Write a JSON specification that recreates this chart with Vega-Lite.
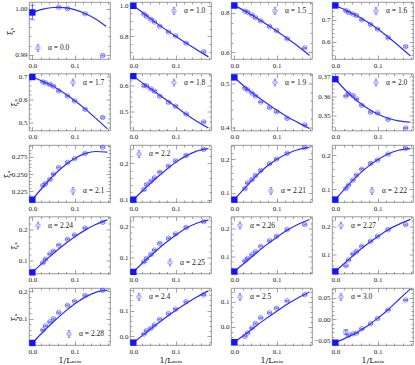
{
"$schema":"https://vega.github.io/schema/vega-lite/v6.json",
"padding":{"left":2,"top":1,"right":2,"bottom":1},
"autosize":{"type":"pad"},
"bounds":"flush",
"columns":4,
"spacing":{"row":14.5,"column":20},
"data":{"name":"d"},
"resolve":{"scale":{"color":"independent","x":"independent","y":"independent"},"legend":{"color":"independent"}},
"datasets":{"d":[
{"a":"0.0","k":"fit","x":0,"y":0.9992},{"a":"0.0","k":"fit","x":0.025,"y":0.99995},{"a":"0.0","k":"fit","x":0.05,"y":1.0003},{"a":"0.0","k":"fit","x":0.075,"y":1.00026},{"a":"0.0","k":"fit","x":0.1,"y":0.99983},{"a":"0.0","k":"fit","x":0.125,"y":0.999},{"a":"0.0","k":"fit","x":0.15,"y":0.99778},{"a":"0.0","k":"fit","x":0.175,"y":0.99616},
{"a":"0.0","k":"mc","x":0.0625,"y":1.00035,"e":0.00012},{"a":"0.0","k":"mc","x":0.08333,"y":1.00007,"e":0.00012},{"a":"0.0","k":"mc","x":0.125,"y":0.99894,"e":0.00012},{"a":"0.0","k":"mc","x":0.16667,"y":0.98986,"e":0.00012},
{"a":"0.0","k":"ext","x":0,"y":0.99922,"e":0.0016},
{"a":"1.0","k":"fit","x":0,"y":1.0},{"a":"1.0","k":"fit","x":0.025,"y":0.95},{"a":"1.0","k":"fit","x":0.05,"y":0.897},{"a":"1.0","k":"fit","x":0.075,"y":0.848},{"a":"1.0","k":"fit","x":0.1,"y":0.802},{"a":"1.0","k":"fit","x":0.125,"y":0.757},{"a":"1.0","k":"fit","x":0.15,"y":0.714},{"a":"1.0","k":"fit","x":0.178,"y":0.667},
{"a":"1.0","k":"mc","x":0.025,"y":0.947,"e":0.004},{"a":"1.0","k":"mc","x":0.03125,"y":0.931,"e":0.004},{"a":"1.0","k":"mc","x":0.04167,"y":0.912,"e":0.004},{"a":"1.0","k":"mc","x":0.05,"y":0.895,"e":0.004},{"a":"1.0","k":"mc","x":0.0625,"y":0.867,"e":0.004},{"a":"1.0","k":"mc","x":0.08333,"y":0.829,"e":0.004},{"a":"1.0","k":"mc","x":0.1,"y":0.804,"e":0.004},{"a":"1.0","k":"mc","x":0.125,"y":0.756,"e":0.004},{"a":"1.0","k":"mc","x":0.16667,"y":0.701,"e":0.004},
{"a":"1.0","k":"ext","x":0,"y":1.0,"e":0.004},
{"a":"1.5","k":"fit","x":0,"y":0.836},{"a":"1.5","k":"fit","x":0.025,"y":0.809},{"a":"1.5","k":"fit","x":0.05,"y":0.777},{"a":"1.5","k":"fit","x":0.075,"y":0.743},{"a":"1.5","k":"fit","x":0.1,"y":0.708},{"a":"1.5","k":"fit","x":0.125,"y":0.671},{"a":"1.5","k":"fit","x":0.15,"y":0.632},{"a":"1.5","k":"fit","x":0.178,"y":0.585},
{"a":"1.5","k":"mc","x":0.025,"y":0.808,"e":0.003},{"a":"1.5","k":"mc","x":0.03125,"y":0.802,"e":0.003},{"a":"1.5","k":"mc","x":0.04167,"y":0.789,"e":0.003},{"a":"1.5","k":"mc","x":0.05,"y":0.775,"e":0.003},{"a":"1.5","k":"mc","x":0.0625,"y":0.759,"e":0.003},{"a":"1.5","k":"mc","x":0.08333,"y":0.731,"e":0.003},{"a":"1.5","k":"mc","x":0.1,"y":0.71,"e":0.003},{"a":"1.5","k":"mc","x":0.125,"y":0.669,"e":0.003},{"a":"1.5","k":"mc","x":0.16667,"y":0.623,"e":0.003},
{"a":"1.5","k":"ext","x":0,"y":0.836,"e":0.003},
{"a":"1.6","k":"fit","x":0,"y":0.766},{"a":"1.6","k":"fit","x":0.025,"y":0.744},{"a":"1.6","k":"fit","x":0.05,"y":0.72},{"a":"1.6","k":"fit","x":0.075,"y":0.692},{"a":"1.6","k":"fit","x":0.1,"y":0.66},{"a":"1.6","k":"fit","x":0.125,"y":0.622},{"a":"1.6","k":"fit","x":0.15,"y":0.582},{"a":"1.6","k":"fit","x":0.178,"y":0.535},
{"a":"1.6","k":"mc","x":0.025,"y":0.742,"e":0.003},{"a":"1.6","k":"mc","x":0.03125,"y":0.734,"e":0.003},{"a":"1.6","k":"mc","x":0.04167,"y":0.727,"e":0.003},{"a":"1.6","k":"mc","x":0.05,"y":0.72,"e":0.003},{"a":"1.6","k":"mc","x":0.0625,"y":0.7,"e":0.003},{"a":"1.6","k":"mc","x":0.08333,"y":0.679,"e":0.003},{"a":"1.6","k":"mc","x":0.1,"y":0.658,"e":0.003},{"a":"1.6","k":"mc","x":0.125,"y":0.618,"e":0.003},{"a":"1.6","k":"mc","x":0.16667,"y":0.578,"e":0.003},
{"a":"1.6","k":"ext","x":0,"y":0.766,"e":0.003},
{"a":"1.7","k":"fit","x":0,"y":0.698},{"a":"1.7","k":"fit","x":0.025,"y":0.678},{"a":"1.7","k":"fit","x":0.05,"y":0.656},{"a":"1.7","k":"fit","x":0.075,"y":0.628},{"a":"1.7","k":"fit","x":0.1,"y":0.596},{"a":"1.7","k":"fit","x":0.125,"y":0.56},{"a":"1.7","k":"fit","x":0.15,"y":0.52},{"a":"1.7","k":"fit","x":0.178,"y":0.474},
{"a":"1.7","k":"mc","x":0.025,"y":0.6755,"e":0.003},{"a":"1.7","k":"mc","x":0.03125,"y":0.671,"e":0.003},{"a":"1.7","k":"mc","x":0.04167,"y":0.665,"e":0.003},{"a":"1.7","k":"mc","x":0.05,"y":0.657,"e":0.003},{"a":"1.7","k":"mc","x":0.0625,"y":0.637,"e":0.003},{"a":"1.7","k":"mc","x":0.08333,"y":0.615,"e":0.003},{"a":"1.7","k":"mc","x":0.1,"y":0.594,"e":0.003},{"a":"1.7","k":"mc","x":0.125,"y":0.558,"e":0.003},{"a":"1.7","k":"mc","x":0.16667,"y":0.523,"e":0.003},
{"a":"1.7","k":"ext","x":0,"y":0.697,"e":0.003},
{"a":"1.8","k":"fit","x":0,"y":0.638},{"a":"1.8","k":"fit","x":0.025,"y":0.607},{"a":"1.8","k":"fit","x":0.05,"y":0.578},{"a":"1.8","k":"fit","x":0.075,"y":0.549},{"a":"1.8","k":"fit","x":0.1,"y":0.52},{"a":"1.8","k":"fit","x":0.125,"y":0.49},{"a":"1.8","k":"fit","x":0.15,"y":0.463},{"a":"1.8","k":"fit","x":0.178,"y":0.437},
{"a":"1.8","k":"mc","x":0.025,"y":0.601,"e":0.003},{"a":"1.8","k":"mc","x":0.03125,"y":0.6,"e":0.003},{"a":"1.8","k":"mc","x":0.04167,"y":0.588,"e":0.003},{"a":"1.8","k":"mc","x":0.05,"y":0.579,"e":0.003},{"a":"1.8","k":"mc","x":0.0625,"y":0.56,"e":0.003},{"a":"1.8","k":"mc","x":0.08333,"y":0.536,"e":0.003},{"a":"1.8","k":"mc","x":0.1,"y":0.521,"e":0.003},{"a":"1.8","k":"mc","x":0.125,"y":0.491,"e":0.003},{"a":"1.8","k":"mc","x":0.16667,"y":0.46,"e":0.003},
{"a":"1.8","k":"ext","x":0,"y":0.6377,"e":0.003},
{"a":"1.9","k":"fit","x":0,"y":0.5134},{"a":"1.9","k":"fit","x":0.025,"y":0.492},{"a":"1.9","k":"fit","x":0.05,"y":0.473},{"a":"1.9","k":"fit","x":0.075,"y":0.456},{"a":"1.9","k":"fit","x":0.1,"y":0.439},{"a":"1.9","k":"fit","x":0.125,"y":0.424},{"a":"1.9","k":"fit","x":0.15,"y":0.411},{"a":"1.9","k":"fit","x":0.178,"y":0.397},
{"a":"1.9","k":"mc","x":0.025,"y":0.4888,"e":0.0015},{"a":"1.9","k":"mc","x":0.03125,"y":0.485,"e":0.0015},{"a":"1.9","k":"mc","x":0.04167,"y":0.4776,"e":0.0015},{"a":"1.9","k":"mc","x":0.05,"y":0.471,"e":0.0015},{"a":"1.9","k":"mc","x":0.0625,"y":0.4575,"e":0.0015},{"a":"1.9","k":"mc","x":0.08333,"y":0.4448,"e":0.0015},{"a":"1.9","k":"mc","x":0.1,"y":0.4351,"e":0.0015},{"a":"1.9","k":"mc","x":0.125,"y":0.4201,"e":0.0015},{"a":"1.9","k":"mc","x":0.16667,"y":0.4052,"e":0.0015},
{"a":"1.9","k":"ext","x":0,"y":0.5134,"e":0.0015},
{"a":"2.0","k":"fit","x":0,"y":0.3688},{"a":"2.0","k":"fit","x":0.025,"y":0.3628},{"a":"2.0","k":"fit","x":0.05,"y":0.3578},{"a":"2.0","k":"fit","x":0.075,"y":0.3537},{"a":"2.0","k":"fit","x":0.1,"y":0.3506},{"a":"2.0","k":"fit","x":0.125,"y":0.3484},{"a":"2.0","k":"fit","x":0.15,"y":0.347},{"a":"2.0","k":"fit","x":0.178,"y":0.3463},
{"a":"2.0","k":"mc","x":0.025,"y":0.36,"e":0.0003},{"a":"2.0","k":"mc","x":0.03125,"y":0.3613,"e":0.0003},{"a":"2.0","k":"mc","x":0.04167,"y":0.3603,"e":0.0003},{"a":"2.0","k":"mc","x":0.05,"y":0.3585,"e":0.0003},{"a":"2.0","k":"mc","x":0.0625,"y":0.3551,"e":0.0003},{"a":"2.0","k":"mc","x":0.08333,"y":0.3515,"e":0.0003},{"a":"2.0","k":"mc","x":0.1,"y":0.3512,"e":0.0003},{"a":"2.0","k":"mc","x":0.125,"y":0.3478,"e":0.0003},{"a":"2.0","k":"mc","x":0.16667,"y":0.3433,"e":0.0003},
{"a":"2.0","k":"ext","x":0,"y":0.3688,"e":0.0003},
{"a":"2.1","k":"fit","x":0,"y":0.2129},{"a":"2.1","k":"fit","x":0.025,"y":0.2312},{"a":"2.1","k":"fit","x":0.05,"y":0.2478},{"a":"2.1","k":"fit","x":0.075,"y":0.2617},{"a":"2.1","k":"fit","x":0.1,"y":0.2725},{"a":"2.1","k":"fit","x":0.125,"y":0.2795},{"a":"2.1","k":"fit","x":0.15,"y":0.2826},{"a":"2.1","k":"fit","x":0.178,"y":0.2818},
{"a":"2.1","k":"mc","x":0.025,"y":0.2333,"e":0.0007},{"a":"2.1","k":"mc","x":0.03125,"y":0.2362,"e":0.0007},{"a":"2.1","k":"mc","x":0.04167,"y":0.242,"e":0.0007},{"a":"2.1","k":"mc","x":0.05,"y":0.25,"e":0.0007},{"a":"2.1","k":"mc","x":0.0625,"y":0.2595,"e":0.0007},{"a":"2.1","k":"mc","x":0.08333,"y":0.2668,"e":0.0007},{"a":"2.1","k":"mc","x":0.1,"y":0.2721,"e":0.0007},{"a":"2.1","k":"mc","x":0.125,"y":0.2799,"e":0.0007},{"a":"2.1","k":"mc","x":0.16667,"y":0.2886,"e":0.0007},
{"a":"2.1","k":"ext","x":0,"y":0.2129,"e":0.0007},
{"a":"2.2","k":"fit","x":0,"y":0.1},{"a":"2.2","k":"fit","x":0.025,"y":0.128},{"a":"2.2","k":"fit","x":0.05,"y":0.155},{"a":"2.2","k":"fit","x":0.075,"y":0.18},{"a":"2.2","k":"fit","x":0.1,"y":0.203},{"a":"2.2","k":"fit","x":0.125,"y":0.221},{"a":"2.2","k":"fit","x":0.15,"y":0.234},{"a":"2.2","k":"fit","x":0.178,"y":0.241},
{"a":"2.2","k":"mc","x":0.025,"y":0.1278,"e":0.002},{"a":"2.2","k":"mc","x":0.03125,"y":0.1417,"e":0.002},{"a":"2.2","k":"mc","x":0.04167,"y":0.1509,"e":0.002},{"a":"2.2","k":"mc","x":0.05,"y":0.1602,"e":0.002},{"a":"2.2","k":"mc","x":0.0625,"y":0.1759,"e":0.002},{"a":"2.2","k":"mc","x":0.08333,"y":0.1926,"e":0.002},{"a":"2.2","k":"mc","x":0.1,"y":0.2074,"e":0.002},{"a":"2.2","k":"mc","x":0.125,"y":0.2222,"e":0.002},{"a":"2.2","k":"mc","x":0.16667,"y":0.2389,"e":0.002},
{"a":"2.2","k":"ext","x":0,"y":0.1,"e":0.002},
{"a":"2.21","k":"fit","x":0,"y":0.079},{"a":"2.21","k":"fit","x":0.025,"y":0.114},{"a":"2.21","k":"fit","x":0.05,"y":0.148},{"a":"2.21","k":"fit","x":0.075,"y":0.177},{"a":"2.21","k":"fit","x":0.1,"y":0.2},{"a":"2.21","k":"fit","x":0.125,"y":0.217},{"a":"2.21","k":"fit","x":0.15,"y":0.229},{"a":"2.21","k":"fit","x":0.178,"y":0.236},
{"a":"2.21","k":"mc","x":0.025,"y":0.1121,"e":0.002},{"a":"2.21","k":"mc","x":0.03125,"y":0.1293,"e":0.002},{"a":"2.21","k":"mc","x":0.04167,"y":0.1394,"e":0.002},{"a":"2.21","k":"mc","x":0.05,"y":0.1515,"e":0.002},{"a":"2.21","k":"mc","x":0.0625,"y":0.1667,"e":0.002},{"a":"2.21","k":"mc","x":0.08333,"y":0.1869,"e":0.002},{"a":"2.21","k":"mc","x":0.1,"y":0.201,"e":0.002},{"a":"2.21","k":"mc","x":0.125,"y":0.2182,"e":0.002},{"a":"2.21","k":"mc","x":0.16667,"y":0.2354,"e":0.002},
{"a":"2.21","k":"ext","x":0,"y":0.0788,"e":0.002},
{"a":"2.22","k":"fit","x":0,"y":0.07},{"a":"2.22","k":"fit","x":0.025,"y":0.105},{"a":"2.22","k":"fit","x":0.05,"y":0.137},{"a":"2.22","k":"fit","x":0.075,"y":0.164},{"a":"2.22","k":"fit","x":0.1,"y":0.186},{"a":"2.22","k":"fit","x":0.125,"y":0.203},{"a":"2.22","k":"fit","x":0.15,"y":0.214},{"a":"2.22","k":"fit","x":0.178,"y":0.219},
{"a":"2.22","k":"mc","x":0.025,"y":0.102,"e":0.002},{"a":"2.22","k":"mc","x":0.03125,"y":0.112,"e":0.002},{"a":"2.22","k":"mc","x":0.04167,"y":0.1265,"e":0.002},{"a":"2.22","k":"mc","x":0.05,"y":0.1412,"e":0.002},{"a":"2.22","k":"mc","x":0.0625,"y":0.1588,"e":0.002},{"a":"2.22","k":"mc","x":0.08333,"y":0.1755,"e":0.002},{"a":"2.22","k":"mc","x":0.1,"y":0.1853,"e":0.002},{"a":"2.22","k":"mc","x":0.125,"y":0.2029,"e":0.002},{"a":"2.22","k":"mc","x":0.16667,"y":0.2196,"e":0.002},
{"a":"2.22","k":"ext","x":0,"y":0.0696,"e":0.002},
{"a":"2.24","k":"fit","x":0,"y":0.0626},{"a":"2.24","k":"fit","x":0.025,"y":0.094},{"a":"2.24","k":"fit","x":0.05,"y":0.124},{"a":"2.24","k":"fit","x":0.075,"y":0.152},{"a":"2.24","k":"fit","x":0.1,"y":0.177},{"a":"2.24","k":"fit","x":0.125,"y":0.199},{"a":"2.24","k":"fit","x":0.15,"y":0.217},{"a":"2.24","k":"fit","x":0.178,"y":0.232},
{"a":"2.24","k":"mc","x":0.025,"y":0.0934,"e":0.002},{"a":"2.24","k":"mc","x":0.03125,"y":0.1055,"e":0.002},{"a":"2.24","k":"mc","x":0.04167,"y":0.122,"e":0.002},{"a":"2.24","k":"mc","x":0.05,"y":0.1308,"e":0.002},{"a":"2.24","k":"mc","x":0.0625,"y":0.1505,"e":0.002},{"a":"2.24","k":"mc","x":0.08333,"y":0.1692,"e":0.002},{"a":"2.24","k":"mc","x":0.1,"y":0.1835,"e":0.002},{"a":"2.24","k":"mc","x":0.125,"y":0.2055,"e":0.002},{"a":"2.24","k":"mc","x":0.16667,"y":0.2242,"e":0.002},
{"a":"2.24","k":"ext","x":0,"y":0.0626,"e":0.002},
{"a":"2.25","k":"fit","x":0,"y":0.053},{"a":"2.25","k":"fit","x":0.025,"y":0.086},{"a":"2.25","k":"fit","x":0.05,"y":0.117},{"a":"2.25","k":"fit","x":0.075,"y":0.146},{"a":"2.25","k":"fit","x":0.1,"y":0.172},{"a":"2.25","k":"fit","x":0.125,"y":0.195},{"a":"2.25","k":"fit","x":0.15,"y":0.211},{"a":"2.25","k":"fit","x":0.178,"y":0.222},
{"a":"2.25","k":"mc","x":0.025,"y":0.0859,"e":0.002},{"a":"2.25","k":"mc","x":0.03125,"y":0.0967,"e":0.002},{"a":"2.25","k":"mc","x":0.04167,"y":0.1098,"e":0.002},{"a":"2.25","k":"mc","x":0.05,"y":0.1239,"e":0.002},{"a":"2.25","k":"mc","x":0.0625,"y":0.1457,"e":0.002},{"a":"2.25","k":"mc","x":0.08333,"y":0.162,"e":0.002},{"a":"2.25","k":"mc","x":0.1,"y":0.1761,"e":0.002},{"a":"2.25","k":"mc","x":0.125,"y":0.1978,"e":0.002},{"a":"2.25","k":"mc","x":0.16667,"y":0.2163,"e":0.002},
{"a":"2.25","k":"ext","x":0,"y":0.0533,"e":0.002},
{"a":"2.26","k":"fit","x":0,"y":0.045},{"a":"2.26","k":"fit","x":0.025,"y":0.078},{"a":"2.26","k":"fit","x":0.05,"y":0.11},{"a":"2.26","k":"fit","x":0.075,"y":0.141},{"a":"2.26","k":"fit","x":0.1,"y":0.169},{"a":"2.26","k":"fit","x":0.125,"y":0.195},{"a":"2.26","k":"fit","x":0.15,"y":0.216},{"a":"2.26","k":"fit","x":0.178,"y":0.234},
{"a":"2.26","k":"mc","x":0.025,"y":0.0841,"e":0.002},{"a":"2.26","k":"mc","x":0.03125,"y":0.0927,"e":0.002},{"a":"2.26","k":"mc","x":0.04167,"y":0.1061,"e":0.002},{"a":"2.26","k":"mc","x":0.05,"y":0.1171,"e":0.002},{"a":"2.26","k":"mc","x":0.0625,"y":0.1366,"e":0.002},{"a":"2.26","k":"mc","x":0.08333,"y":0.1573,"e":0.002},{"a":"2.26","k":"mc","x":0.1,"y":0.1732,"e":0.002},{"a":"2.26","k":"mc","x":0.125,"y":0.1976,"e":0.002},{"a":"2.26","k":"mc","x":0.16667,"y":0.2159,"e":0.002},
{"a":"2.26","k":"ext","x":0,"y":0.0451,"e":0.002},
{"a":"2.27","k":"fit","x":0,"y":0.041},{"a":"2.27","k":"fit","x":0.025,"y":0.074},{"a":"2.27","k":"fit","x":0.05,"y":0.107},{"a":"2.27","k":"fit","x":0.075,"y":0.137},{"a":"2.27","k":"fit","x":0.1,"y":0.164},{"a":"2.27","k":"fit","x":0.125,"y":0.189},{"a":"2.27","k":"fit","x":0.15,"y":0.208},{"a":"2.27","k":"fit","x":0.178,"y":0.226},
{"a":"2.27","k":"mc","x":0.025,"y":0.0607,"e":0.002},{"a":"2.27","k":"mc","x":0.03125,"y":0.081,"e":0.002},{"a":"2.27","k":"mc","x":0.04167,"y":0.1024,"e":0.002},{"a":"2.27","k":"mc","x":0.05,"y":0.1119,"e":0.002},{"a":"2.27","k":"mc","x":0.0625,"y":0.1298,"e":0.002},{"a":"2.27","k":"mc","x":0.08333,"y":0.1476,"e":0.002},{"a":"2.27","k":"mc","x":0.1,"y":0.1655,"e":0.002},{"a":"2.27","k":"mc","x":0.125,"y":0.1893,"e":0.002},{"a":"2.27","k":"mc","x":0.16667,"y":0.2071,"e":0.002},
{"a":"2.27","k":"ext","x":0,"y":0.0405,"e":0.002},
{"a":"2.28","k":"fit","x":0,"y":0.0123},{"a":"2.28","k":"fit","x":0.025,"y":0.052},{"a":"2.28","k":"fit","x":0.05,"y":0.089},{"a":"2.28","k":"fit","x":0.075,"y":0.123},{"a":"2.28","k":"fit","x":0.1,"y":0.153},{"a":"2.28","k":"fit","x":0.125,"y":0.178},{"a":"2.28","k":"fit","x":0.15,"y":0.195},{"a":"2.28","k":"fit","x":0.178,"y":0.203},
{"a":"2.28","k":"mc","x":0.025,"y":0.0593,"e":0.002},{"a":"2.28","k":"mc","x":0.03125,"y":0.0741,"e":0.002},{"a":"2.28","k":"mc","x":0.04167,"y":0.0889,"e":0.002},{"a":"2.28","k":"mc","x":0.05,"y":0.1,"e":0.002},{"a":"2.28","k":"mc","x":0.0625,"y":0.1222,"e":0.002},{"a":"2.28","k":"mc","x":0.08333,"y":0.1481,"e":0.002},{"a":"2.28","k":"mc","x":0.1,"y":0.163,"e":0.002},{"a":"2.28","k":"mc","x":0.125,"y":0.184,"e":0.002},{"a":"2.28","k":"mc","x":0.16667,"y":0.2025,"e":0.002},
{"a":"2.28","k":"ext","x":0,"y":0.0123,"e":0.002},
{"a":"2.4","k":"fit","x":0,"y":-0.024},{"a":"2.4","k":"fit","x":0.025,"y":0.008},{"a":"2.4","k":"fit","x":0.05,"y":0.04},{"a":"2.4","k":"fit","x":0.075,"y":0.071},{"a":"2.4","k":"fit","x":0.1,"y":0.1},{"a":"2.4","k":"fit","x":0.125,"y":0.127},{"a":"2.4","k":"fit","x":0.15,"y":0.152},{"a":"2.4","k":"fit","x":0.178,"y":0.176},
{"a":"2.4","k":"mc","x":0.025,"y":0.0092,"e":0.002},{"a":"2.4","k":"mc","x":0.03125,"y":0.0224,"e":0.002},{"a":"2.4","k":"mc","x":0.04167,"y":0.0316,"e":0.002},{"a":"2.4","k":"mc","x":0.05,"y":0.0447,"e":0.002},{"a":"2.4","k":"mc","x":0.0625,"y":0.0658,"e":0.002},{"a":"2.4","k":"mc","x":0.08333,"y":0.0882,"e":0.002},{"a":"2.4","k":"mc","x":0.1,"y":0.1053,"e":0.002},{"a":"2.4","k":"mc","x":0.125,"y":0.1342,"e":0.002},{"a":"2.4","k":"mc","x":0.16667,"y":0.1605,"e":0.002},
{"a":"2.4","k":"ext","x":0,"y":-0.0237,"e":0.002},
{"a":"2.5","k":"fit","x":0,"y":-0.061},{"a":"2.5","k":"fit","x":0.025,"y":-0.03},{"a":"2.5","k":"fit","x":0.05,"y":0.002},{"a":"2.5","k":"fit","x":0.075,"y":0.033},{"a":"2.5","k":"fit","x":0.1,"y":0.062},{"a":"2.5","k":"fit","x":0.125,"y":0.09},{"a":"2.5","k":"fit","x":0.15,"y":0.115},{"a":"2.5","k":"fit","x":0.178,"y":0.139},
{"a":"2.5","k":"mc","x":0.025,"y":-0.0378,"e":0.002},{"a":"2.5","k":"mc","x":0.03125,"y":-0.0243,"e":0.002},{"a":"2.5","k":"mc","x":0.04167,"y":-0.0041,"e":0.002},{"a":"2.5","k":"mc","x":0.05,"y":0.0135,"e":0.002},{"a":"2.5","k":"mc","x":0.0625,"y":0.0365,"e":0.002},{"a":"2.5","k":"mc","x":0.08333,"y":0.0568,"e":0.002},{"a":"2.5","k":"mc","x":0.1,"y":0.0743,"e":0.002},{"a":"2.5","k":"mc","x":0.125,"y":0.1041,"e":0.002},{"a":"2.5","k":"mc","x":0.16667,"y":0.1284,"e":0.002},
{"a":"2.5","k":"ext","x":0,"y":-0.0608,"e":0.002},
{"a":"3.0","k":"fit","x":0,"y":-0.054},{"a":"3.0","k":"fit","x":0.025,"y":-0.043},{"a":"3.0","k":"fit","x":0.05,"y":-0.031},{"a":"3.0","k":"fit","x":0.075,"y":-0.016},{"a":"3.0","k":"fit","x":0.1,"y":0.002},{"a":"3.0","k":"fit","x":0.125,"y":0.022},{"a":"3.0","k":"fit","x":0.15,"y":0.045},{"a":"3.0","k":"fit","x":0.178,"y":0.07},
{"a":"3.0","k":"mc","x":0.025,"y":-0.0297,"e":0.0055},{"a":"3.0","k":"mc","x":0.03125,"y":-0.0375,"e":0.0012},{"a":"3.0","k":"mc","x":0.04167,"y":-0.0336,"e":0.0012},{"a":"3.0","k":"mc","x":0.05,"y":-0.032,"e":0.0012},{"a":"3.0","k":"mc","x":0.0625,"y":-0.0219,"e":0.0012},{"a":"3.0","k":"mc","x":0.08333,"y":-0.0102,"e":0.0012},{"a":"3.0","k":"mc","x":0.1,"y":0.0016,"e":0.0012},{"a":"3.0","k":"mc","x":0.125,"y":0.0211,"e":0.0012},{"a":"3.0","k":"mc","x":0.16667,"y":0.0445,"e":0.0012},
{"a":"3.0","k":"ext","x":0,"y":-0.0539,"e":0.0015}
]},
"concat":[
{"width":81,"height":57,"transform":[{"filter":"datum.a==='0.0'"}],"resolve":{"axis":{"x":"independent","y":"independent"}},"encoding":{"x":{"field":"x","type":"quantitative","scale":{"domain":[-0.008,0.184],"nice":false,"zero":false},"axis":null},"y":{"field":"y","type":"quantitative","scale":{"domain":[0.9891,1.0015],"nice":false,"zero":false},"axis":null}},"layer":[
{"transform":[{"filter":"datum.k==='fit'"}],"mark":{"type":"line","interpolate":"monotone","color":"#2a2aff","stroke":"#2a2aff","strokeWidth":1.2},"encoding":{"x":{"field":"x","type":"quantitative","scale":{"domain":[-0.008,0.184],"nice":false,"zero":false},"axis":{"values":[0,0.02,0.04,0.06,0.08,0.1,0.12,0.14,0.16,0.18],"labelExpr":"datum.value==0||datum.value==0.1?datum.label:''","format":".1f","tickSize":{"condition":{"test":"datum.value==0||datum.value==0.1","value":-4},"value":-2},"title":null}},"y":{"field":"y","type":"quantitative","scale":{"domain":[0.9891,1.0015],"nice":false,"zero":false},"axis":{"values":[0.99,0.992,0.994,0.996,0.998,1.0],"labelExpr":"indexof([0.99,1.0],datum.value)>=0?datum.label:''","format":".2f","tickSize":{"condition":{"test":"indexof([0.99,1.0],datum.value)>=0","value":-4},"value":-2},"title":"ξₓ"}}}},
{"transform":[{"filter":"datum.k==='ext'"}],"mark":{"type":"point","opacity":0},"encoding":{"x":{"field":"x","type":"quantitative","scale":{"domain":[-0.008,0.184],"nice":false,"zero":false},"axis":{"orient":"top","labels":false,"title":null,"values":[0,0.02,0.04,0.06,0.08,0.1,0.12,0.14,0.16,0.18],"tickSize":{"condition":{"test":"datum.value==0||datum.value==0.1","value":-4},"value":-2}}},"y":{"field":"y","type":"quantitative","scale":{"domain":[0.9891,1.0015],"nice":false,"zero":false},"axis":{"orient":"right","labels":false,"title":null,"values":[0.99,0.992,0.994,0.996,0.998,1.0],"tickSize":{"condition":{"test":"indexof([0.99,1.0],datum.value)>=0","value":-4},"value":-2}}}}},
{"transform":[{"filter":"datum.k!=='fit'"}],"mark":{"type":"errorbar","ticks":true,"color":"#3c3cff","thickness":0.8},"encoding":{"yError":{"field":"e"}}},
{"transform":[{"filter":"datum.k==='mc'"}],"mark":{"type":"point","shape":"circle","filled":false,"size":20,"strokeWidth":0.8},"encoding":{"color":{"field":"a","type":"nominal","scale":{"range":["#3c3cff"]},"legend":{"orient":"bottom-left","title":null,"labelExpr":"'α = ' + datum.label"}}}},
{"transform":[{"filter":"datum.k==='ext'"}],"mark":{"type":"square","size":40,"color":"#1414ff","opacity":1}}]},

{"width":81,"height":57,"transform":[{"filter":"datum.a==='1.0'"}],"resolve":{"axis":{"x":"independent","y":"independent"}},"encoding":{"x":{"field":"x","type":"quantitative","scale":{"domain":[-0.008,0.184],"nice":false,"zero":false},"axis":null},"y":{"field":"y","type":"quantitative","scale":{"domain":[0.653,1.025],"nice":false,"zero":false},"axis":null}},"layer":[
{"transform":[{"filter":"datum.k==='fit'"}],"mark":{"type":"line","interpolate":"monotone","color":"#2a2aff","stroke":"#2a2aff","strokeWidth":1.2},"encoding":{"x":{"field":"x","type":"quantitative","scale":{"domain":[-0.008,0.184],"nice":false,"zero":false},"axis":{"values":[0,0.02,0.04,0.06,0.08,0.1,0.12,0.14,0.16,0.18],"labelExpr":"datum.value==0||datum.value==0.1?datum.label:''","format":".1f","tickSize":{"condition":{"test":"datum.value==0||datum.value==0.1","value":-4},"value":-2},"title":null}},"y":{"field":"y","type":"quantitative","scale":{"domain":[0.653,1.025],"nice":false,"zero":false},"axis":{"values":[0.7,0.75,0.8,0.85,0.9,0.95,1.0],"labelExpr":"indexof([0.8,1.0],datum.value)>=0?datum.label:''","format":".1f","tickSize":{"condition":{"test":"indexof([0.8,1.0],datum.value)>=0","value":-4},"value":-2},"title":null}}}},
{"transform":[{"filter":"datum.k==='ext'"}],"mark":{"type":"point","opacity":0},"encoding":{"x":{"field":"x","type":"quantitative","scale":{"domain":[-0.008,0.184],"nice":false,"zero":false},"axis":{"orient":"top","labels":false,"title":null,"values":[0,0.02,0.04,0.06,0.08,0.1,0.12,0.14,0.16,0.18],"tickSize":{"condition":{"test":"datum.value==0||datum.value==0.1","value":-4},"value":-2}}},"y":{"field":"y","type":"quantitative","scale":{"domain":[0.653,1.025],"nice":false,"zero":false},"axis":{"orient":"right","labels":false,"title":null,"values":[0.7,0.75,0.8,0.85,0.9,0.95,1.0],"tickSize":{"condition":{"test":"indexof([0.8,1.0],datum.value)>=0","value":-4},"value":-2}}}}},
{"transform":[{"filter":"datum.k!=='fit'"}],"mark":{"type":"errorbar","ticks":true,"color":"#3c3cff","thickness":0.8},"encoding":{"yError":{"field":"e"}}},
{"transform":[{"filter":"datum.k==='mc'"}],"mark":{"type":"point","shape":"circle","filled":false,"size":20,"strokeWidth":0.8},"encoding":{"color":{"field":"a","type":"nominal","scale":{"range":["#3c3cff"]},"legend":{"orient":"top-right","title":null,"labelExpr":"'α = ' + datum.label"}}}},
{"transform":[{"filter":"datum.k==='ext'"}],"mark":{"type":"square","size":40,"color":"#1414ff","opacity":1}}]},

{"width":81,"height":57,"transform":[{"filter":"datum.a==='1.5'"}],"resolve":{"axis":{"x":"independent","y":"independent"}},"encoding":{"x":{"field":"x","type":"quantitative","scale":{"domain":[-0.008,0.184],"nice":false,"zero":false},"axis":null},"y":{"field":"y","type":"quantitative","scale":{"domain":[0.567,0.854],"nice":false,"zero":false},"axis":null}},"layer":[
{"transform":[{"filter":"datum.k==='fit'"}],"mark":{"type":"line","interpolate":"monotone","color":"#2a2aff","stroke":"#2a2aff","strokeWidth":1.2},"encoding":{"x":{"field":"x","type":"quantitative","scale":{"domain":[-0.008,0.184],"nice":false,"zero":false},"axis":{"values":[0,0.02,0.04,0.06,0.08,0.1,0.12,0.14,0.16,0.18],"labelExpr":"datum.value==0||datum.value==0.1?datum.label:''","format":".1f","tickSize":{"condition":{"test":"datum.value==0||datum.value==0.1","value":-4},"value":-2},"title":null}},"y":{"field":"y","type":"quantitative","scale":{"domain":[0.567,0.854],"nice":false,"zero":false},"axis":{"values":[0.6,0.65,0.7,0.75,0.8,0.85],"labelExpr":"indexof([0.6,0.8],datum.value)>=0?datum.label:''","format":".1f","tickSize":{"condition":{"test":"indexof([0.6,0.8],datum.value)>=0","value":-4},"value":-2},"title":null}}}},
{"transform":[{"filter":"datum.k==='ext'"}],"mark":{"type":"point","opacity":0},"encoding":{"x":{"field":"x","type":"quantitative","scale":{"domain":[-0.008,0.184],"nice":false,"zero":false},"axis":{"orient":"top","labels":false,"title":null,"values":[0,0.02,0.04,0.06,0.08,0.1,0.12,0.14,0.16,0.18],"tickSize":{"condition":{"test":"datum.value==0||datum.value==0.1","value":-4},"value":-2}}},"y":{"field":"y","type":"quantitative","scale":{"domain":[0.567,0.854],"nice":false,"zero":false},"axis":{"orient":"right","labels":false,"title":null,"values":[0.6,0.65,0.7,0.75,0.8,0.85],"tickSize":{"condition":{"test":"indexof([0.6,0.8],datum.value)>=0","value":-4},"value":-2}}}}},
{"transform":[{"filter":"datum.k!=='fit'"}],"mark":{"type":"errorbar","ticks":true,"color":"#3c3cff","thickness":0.8},"encoding":{"yError":{"field":"e"}}},
{"transform":[{"filter":"datum.k==='mc'"}],"mark":{"type":"point","shape":"circle","filled":false,"size":20,"strokeWidth":0.8},"encoding":{"color":{"field":"a","type":"nominal","scale":{"range":["#3c3cff"]},"legend":{"orient":"top-right","title":null,"labelExpr":"'α = ' + datum.label"}}}},
{"transform":[{"filter":"datum.k==='ext'"}],"mark":{"type":"square","size":40,"color":"#1414ff","opacity":1}}]},

{"width":81,"height":57,"transform":[{"filter":"datum.a==='1.6'"}],"resolve":{"axis":{"x":"independent","y":"independent"}},"encoding":{"x":{"field":"x","type":"quantitative","scale":{"domain":[-0.008,0.184],"nice":false,"zero":false},"axis":null},"y":{"field":"y","type":"quantitative","scale":{"domain":[0.521,0.782],"nice":false,"zero":false},"axis":null}},"layer":[
{"transform":[{"filter":"datum.k==='fit'"}],"mark":{"type":"line","interpolate":"monotone","color":"#2a2aff","stroke":"#2a2aff","strokeWidth":1.2},"encoding":{"x":{"field":"x","type":"quantitative","scale":{"domain":[-0.008,0.184],"nice":false,"zero":false},"axis":{"values":[0,0.02,0.04,0.06,0.08,0.1,0.12,0.14,0.16,0.18],"labelExpr":"datum.value==0||datum.value==0.1?datum.label:''","format":".1f","tickSize":{"condition":{"test":"datum.value==0||datum.value==0.1","value":-4},"value":-2},"title":null}},"y":{"field":"y","type":"quantitative","scale":{"domain":[0.521,0.782],"nice":false,"zero":false},"axis":{"values":[0.54,0.56,0.58,0.6,0.62,0.64,0.66,0.68,0.7,0.72,0.74,0.76,0.78],"labelExpr":"indexof([0.6,0.7],datum.value)>=0?datum.label:''","format":".1f","tickSize":{"condition":{"test":"indexof([0.6,0.7],datum.value)>=0","value":-4},"value":-2},"title":null}}}},
{"transform":[{"filter":"datum.k==='ext'"}],"mark":{"type":"point","opacity":0},"encoding":{"x":{"field":"x","type":"quantitative","scale":{"domain":[-0.008,0.184],"nice":false,"zero":false},"axis":{"orient":"top","labels":false,"title":null,"values":[0,0.02,0.04,0.06,0.08,0.1,0.12,0.14,0.16,0.18],"tickSize":{"condition":{"test":"datum.value==0||datum.value==0.1","value":-4},"value":-2}}},"y":{"field":"y","type":"quantitative","scale":{"domain":[0.521,0.782],"nice":false,"zero":false},"axis":{"orient":"right","labels":false,"title":null,"values":[0.54,0.56,0.58,0.6,0.62,0.64,0.66,0.68,0.7,0.72,0.74,0.76,0.78],"tickSize":{"condition":{"test":"indexof([0.6,0.7],datum.value)>=0","value":-4},"value":-2}}}}},
{"transform":[{"filter":"datum.k!=='fit'"}],"mark":{"type":"errorbar","ticks":true,"color":"#3c3cff","thickness":0.8},"encoding":{"yError":{"field":"e"}}},
{"transform":[{"filter":"datum.k==='mc'"}],"mark":{"type":"point","shape":"circle","filled":false,"size":20,"strokeWidth":0.8},"encoding":{"color":{"field":"a","type":"nominal","scale":{"range":["#3c3cff"]},"legend":{"orient":"top-right","title":null,"labelExpr":"'α = ' + datum.label"}}}},
{"transform":[{"filter":"datum.k==='ext'"}],"mark":{"type":"square","size":40,"color":"#1414ff","opacity":1}}]},

{"width":81,"height":57,"transform":[{"filter":"datum.a==='1.7'"}],"resolve":{"axis":{"x":"independent","y":"independent"}},"encoding":{"x":{"field":"x","type":"quantitative","scale":{"domain":[-0.008,0.184],"nice":false,"zero":false},"axis":null},"y":{"field":"y","type":"quantitative","scale":{"domain":[0.467,0.712],"nice":false,"zero":false},"axis":null}},"layer":[
{"transform":[{"filter":"datum.k==='fit'"}],"mark":{"type":"line","interpolate":"monotone","color":"#2a2aff","stroke":"#2a2aff","strokeWidth":1.2},"encoding":{"x":{"field":"x","type":"quantitative","scale":{"domain":[-0.008,0.184],"nice":false,"zero":false},"axis":{"values":[0,0.02,0.04,0.06,0.08,0.1,0.12,0.14,0.16,0.18],"labelExpr":"datum.value==0||datum.value==0.1?datum.label:''","format":".1f","tickSize":{"condition":{"test":"datum.value==0||datum.value==0.1","value":-4},"value":-2},"title":null}},"y":{"field":"y","type":"quantitative","scale":{"domain":[0.467,0.712],"nice":false,"zero":false},"axis":{"values":[0.48,0.5,0.52,0.54,0.56,0.58,0.6,0.62,0.64,0.66,0.68,0.7],"labelExpr":"indexof([0.5,0.6,0.7],datum.value)>=0?datum.label:''","format":".1f","tickSize":{"condition":{"test":"indexof([0.5,0.6,0.7],datum.value)>=0","value":-4},"value":-2},"title":"ξₓ"}}}},
{"transform":[{"filter":"datum.k==='ext'"}],"mark":{"type":"point","opacity":0},"encoding":{"x":{"field":"x","type":"quantitative","scale":{"domain":[-0.008,0.184],"nice":false,"zero":false},"axis":{"orient":"top","labels":false,"title":null,"values":[0,0.02,0.04,0.06,0.08,0.1,0.12,0.14,0.16,0.18],"tickSize":{"condition":{"test":"datum.value==0||datum.value==0.1","value":-4},"value":-2}}},"y":{"field":"y","type":"quantitative","scale":{"domain":[0.467,0.712],"nice":false,"zero":false},"axis":{"orient":"right","labels":false,"title":null,"values":[0.48,0.5,0.52,0.54,0.56,0.58,0.6,0.62,0.64,0.66,0.68,0.7],"tickSize":{"condition":{"test":"indexof([0.5,0.6,0.7],datum.value)>=0","value":-4},"value":-2}}}}},
{"transform":[{"filter":"datum.k!=='fit'"}],"mark":{"type":"errorbar","ticks":true,"color":"#3c3cff","thickness":0.8},"encoding":{"yError":{"field":"e"}}},
{"transform":[{"filter":"datum.k==='mc'"}],"mark":{"type":"point","shape":"circle","filled":false,"size":20,"strokeWidth":0.8},"encoding":{"color":{"field":"a","type":"nominal","scale":{"range":["#3c3cff"]},"legend":{"orient":"top-right","title":null,"labelExpr":"'α = ' + datum.label"}}}},
{"transform":[{"filter":"datum.k==='ext'"}],"mark":{"type":"square","size":40,"color":"#1414ff","opacity":1}}]},

{"width":81,"height":57,"transform":[{"filter":"datum.a==='1.8'"}],"resolve":{"axis":{"x":"independent","y":"independent"}},"encoding":{"x":{"field":"x","type":"quantitative","scale":{"domain":[-0.008,0.184],"nice":false,"zero":false},"axis":null},"y":{"field":"y","type":"quantitative","scale":{"domain":[0.427,0.648],"nice":false,"zero":false},"axis":null}},"layer":[
{"transform":[{"filter":"datum.k==='fit'"}],"mark":{"type":"line","interpolate":"monotone","color":"#2a2aff","stroke":"#2a2aff","strokeWidth":1.2},"encoding":{"x":{"field":"x","type":"quantitative","scale":{"domain":[-0.008,0.184],"nice":false,"zero":false},"axis":{"values":[0,0.02,0.04,0.06,0.08,0.1,0.12,0.14,0.16,0.18],"labelExpr":"datum.value==0||datum.value==0.1?datum.label:''","format":".1f","tickSize":{"condition":{"test":"datum.value==0||datum.value==0.1","value":-4},"value":-2},"title":null}},"y":{"field":"y","type":"quantitative","scale":{"domain":[0.427,0.648],"nice":false,"zero":false},"axis":{"values":[0.44,0.46,0.48,0.5,0.52,0.54,0.56,0.58,0.6,0.62,0.64],"labelExpr":"indexof([0.5,0.6],datum.value)>=0?datum.label:''","format":".1f","tickSize":{"condition":{"test":"indexof([0.5,0.6],datum.value)>=0","value":-4},"value":-2},"title":null}}}},
{"transform":[{"filter":"datum.k==='ext'"}],"mark":{"type":"point","opacity":0},"encoding":{"x":{"field":"x","type":"quantitative","scale":{"domain":[-0.008,0.184],"nice":false,"zero":false},"axis":{"orient":"top","labels":false,"title":null,"values":[0,0.02,0.04,0.06,0.08,0.1,0.12,0.14,0.16,0.18],"tickSize":{"condition":{"test":"datum.value==0||datum.value==0.1","value":-4},"value":-2}}},"y":{"field":"y","type":"quantitative","scale":{"domain":[0.427,0.648],"nice":false,"zero":false},"axis":{"orient":"right","labels":false,"title":null,"values":[0.44,0.46,0.48,0.5,0.52,0.54,0.56,0.58,0.6,0.62,0.64],"tickSize":{"condition":{"test":"indexof([0.5,0.6],datum.value)>=0","value":-4},"value":-2}}}}},
{"transform":[{"filter":"datum.k!=='fit'"}],"mark":{"type":"errorbar","ticks":true,"color":"#3c3cff","thickness":0.8},"encoding":{"yError":{"field":"e"}}},
{"transform":[{"filter":"datum.k==='mc'"}],"mark":{"type":"point","shape":"circle","filled":false,"size":20,"strokeWidth":0.8},"encoding":{"color":{"field":"a","type":"nominal","scale":{"range":["#3c3cff"]},"legend":{"orient":"top-right","title":null,"labelExpr":"'α = ' + datum.label"}}}},
{"transform":[{"filter":"datum.k==='ext'"}],"mark":{"type":"square","size":40,"color":"#1414ff","opacity":1}}]},

{"width":81,"height":57,"transform":[{"filter":"datum.a==='1.9'"}],"resolve":{"axis":{"x":"independent","y":"independent"}},"encoding":{"x":{"field":"x","type":"quantitative","scale":{"domain":[-0.008,0.184],"nice":false,"zero":false},"axis":null},"y":{"field":"y","type":"quantitative","scale":{"domain":[0.3925,0.5224],"nice":false,"zero":false},"axis":null}},"layer":[
{"transform":[{"filter":"datum.k==='fit'"}],"mark":{"type":"line","interpolate":"monotone","color":"#2a2aff","stroke":"#2a2aff","strokeWidth":1.2},"encoding":{"x":{"field":"x","type":"quantitative","scale":{"domain":[-0.008,0.184],"nice":false,"zero":false},"axis":{"values":[0,0.02,0.04,0.06,0.08,0.1,0.12,0.14,0.16,0.18],"labelExpr":"datum.value==0||datum.value==0.1?datum.label:''","format":".1f","tickSize":{"condition":{"test":"datum.value==0||datum.value==0.1","value":-4},"value":-2},"title":null}},"y":{"field":"y","type":"quantitative","scale":{"domain":[0.3925,0.5224],"nice":false,"zero":false},"axis":{"values":[0.4,0.42,0.44,0.46,0.48,0.5,0.52],"labelExpr":"indexof([0.4,0.5],datum.value)>=0?datum.label:''","format":".1f","tickSize":{"condition":{"test":"indexof([0.4,0.5],datum.value)>=0","value":-4},"value":-2},"title":null}}}},
{"transform":[{"filter":"datum.k==='ext'"}],"mark":{"type":"point","opacity":0},"encoding":{"x":{"field":"x","type":"quantitative","scale":{"domain":[-0.008,0.184],"nice":false,"zero":false},"axis":{"orient":"top","labels":false,"title":null,"values":[0,0.02,0.04,0.06,0.08,0.1,0.12,0.14,0.16,0.18],"tickSize":{"condition":{"test":"datum.value==0||datum.value==0.1","value":-4},"value":-2}}},"y":{"field":"y","type":"quantitative","scale":{"domain":[0.3925,0.5224],"nice":false,"zero":false},"axis":{"orient":"right","labels":false,"title":null,"values":[0.4,0.42,0.44,0.46,0.48,0.5,0.52],"tickSize":{"condition":{"test":"indexof([0.4,0.5],datum.value)>=0","value":-4},"value":-2}}}}},
{"transform":[{"filter":"datum.k!=='fit'"}],"mark":{"type":"errorbar","ticks":true,"color":"#3c3cff","thickness":0.8},"encoding":{"yError":{"field":"e"}}},
{"transform":[{"filter":"datum.k==='mc'"}],"mark":{"type":"point","shape":"circle","filled":false,"size":20,"strokeWidth":0.8},"encoding":{"color":{"field":"a","type":"nominal","scale":{"range":["#3c3cff"]},"legend":{"orient":"top-right","title":null,"labelExpr":"'α = ' + datum.label"}}}},
{"transform":[{"filter":"datum.k==='ext'"}],"mark":{"type":"square","size":40,"color":"#1414ff","opacity":1}}]},

{"width":81,"height":57,"transform":[{"filter":"datum.a==='2.0'"}],"resolve":{"axis":{"x":"independent","y":"independent"}},"encoding":{"x":{"field":"x","type":"quantitative","scale":{"domain":[-0.008,0.184],"nice":false,"zero":false},"axis":null},"y":{"field":"y","type":"quantitative","scale":{"domain":[0.342,0.3718],"nice":false,"zero":false},"axis":null}},"layer":[
{"transform":[{"filter":"datum.k==='fit'"}],"mark":{"type":"line","interpolate":"monotone","color":"#2a2aff","stroke":"#2a2aff","strokeWidth":1.2},"encoding":{"x":{"field":"x","type":"quantitative","scale":{"domain":[-0.008,0.184],"nice":false,"zero":false},"axis":{"values":[0,0.02,0.04,0.06,0.08,0.1,0.12,0.14,0.16,0.18],"labelExpr":"datum.value==0||datum.value==0.1?datum.label:''","format":".1f","tickSize":{"condition":{"test":"datum.value==0||datum.value==0.1","value":-4},"value":-2},"title":null}},"y":{"field":"y","type":"quantitative","scale":{"domain":[0.342,0.3718],"nice":false,"zero":false},"axis":{"values":[0.344,0.346,0.348,0.35,0.352,0.354,0.356,0.358,0.36,0.362,0.364,0.366,0.368,0.37],"labelExpr":"indexof([0.35,0.36,0.37],datum.value)>=0?datum.label:''","format":".2f","tickSize":{"condition":{"test":"indexof([0.35,0.36,0.37],datum.value)>=0","value":-4},"value":-2},"title":null}}}},
{"transform":[{"filter":"datum.k==='ext'"}],"mark":{"type":"point","opacity":0},"encoding":{"x":{"field":"x","type":"quantitative","scale":{"domain":[-0.008,0.184],"nice":false,"zero":false},"axis":{"orient":"top","labels":false,"title":null,"values":[0,0.02,0.04,0.06,0.08,0.1,0.12,0.14,0.16,0.18],"tickSize":{"condition":{"test":"datum.value==0||datum.value==0.1","value":-4},"value":-2}}},"y":{"field":"y","type":"quantitative","scale":{"domain":[0.342,0.3718],"nice":false,"zero":false},"axis":{"orient":"right","labels":false,"title":null,"values":[0.344,0.346,0.348,0.35,0.352,0.354,0.356,0.358,0.36,0.362,0.364,0.366,0.368,0.37],"tickSize":{"condition":{"test":"indexof([0.35,0.36,0.37],datum.value)>=0","value":-4},"value":-2}}}}},
{"transform":[{"filter":"datum.k!=='fit'"}],"mark":{"type":"errorbar","ticks":true,"color":"#3c3cff","thickness":0.8},"encoding":{"yError":{"field":"e"}}},
{"transform":[{"filter":"datum.k==='mc'"}],"mark":{"type":"point","shape":"circle","filled":false,"size":20,"strokeWidth":0.8},"encoding":{"color":{"field":"a","type":"nominal","scale":{"range":["#3c3cff"]},"legend":{"orient":"top-right","title":null,"labelExpr":"'α = ' + datum.label"}}}},
{"transform":[{"filter":"datum.k==='ext'"}],"mark":{"type":"square","size":40,"color":"#1414ff","opacity":1}}]},

{"width":81,"height":57,"transform":[{"filter":"datum.a==='2.1'"}],"resolve":{"axis":{"x":"independent","y":"independent"}},"encoding":{"x":{"field":"x","type":"quantitative","scale":{"domain":[-0.008,0.184],"nice":false,"zero":false},"axis":null},"y":{"field":"y","type":"quantitative","scale":{"domain":[0.2095,0.292],"nice":false,"zero":false},"axis":null}},"layer":[
{"transform":[{"filter":"datum.k==='fit'"}],"mark":{"type":"line","interpolate":"monotone","color":"#2a2aff","stroke":"#2a2aff","strokeWidth":1.2},"encoding":{"x":{"field":"x","type":"quantitative","scale":{"domain":[-0.008,0.184],"nice":false,"zero":false},"axis":{"values":[0,0.02,0.04,0.06,0.08,0.1,0.12,0.14,0.16,0.18],"labelExpr":"datum.value==0||datum.value==0.1?datum.label:''","format":".1f","tickSize":{"condition":{"test":"datum.value==0||datum.value==0.1","value":-4},"value":-2},"title":null}},"y":{"field":"y","type":"quantitative","scale":{"domain":[0.2095,0.292],"nice":false,"zero":false},"axis":{"values":[0.21,0.215,0.22,0.225,0.23,0.235,0.24,0.245,0.25,0.255,0.26,0.265,0.27,0.275,0.28,0.285,0.29],"labelExpr":"indexof([0.225,0.25,0.275],datum.value)>=0?datum.label:''","format":".3f","tickSize":{"condition":{"test":"indexof([0.225,0.25,0.275],datum.value)>=0","value":-4},"value":-2},"title":"ξₓ"}}}},
{"transform":[{"filter":"datum.k==='ext'"}],"mark":{"type":"point","opacity":0},"encoding":{"x":{"field":"x","type":"quantitative","scale":{"domain":[-0.008,0.184],"nice":false,"zero":false},"axis":{"orient":"top","labels":false,"title":null,"values":[0,0.02,0.04,0.06,0.08,0.1,0.12,0.14,0.16,0.18],"tickSize":{"condition":{"test":"datum.value==0||datum.value==0.1","value":-4},"value":-2}}},"y":{"field":"y","type":"quantitative","scale":{"domain":[0.2095,0.292],"nice":false,"zero":false},"axis":{"orient":"right","labels":false,"title":null,"values":[0.21,0.215,0.22,0.225,0.23,0.235,0.24,0.245,0.25,0.255,0.26,0.265,0.27,0.275,0.28,0.285,0.29],"tickSize":{"condition":{"test":"indexof([0.225,0.25,0.275],datum.value)>=0","value":-4},"value":-2}}}}},
{"transform":[{"filter":"datum.k!=='fit'"}],"mark":{"type":"errorbar","ticks":true,"color":"#3c3cff","thickness":0.8},"encoding":{"yError":{"field":"e"}}},
{"transform":[{"filter":"datum.k==='mc'"}],"mark":{"type":"point","shape":"circle","filled":false,"size":20,"strokeWidth":0.8},"encoding":{"color":{"field":"a","type":"nominal","scale":{"range":["#3c3cff"]},"legend":{"orient":"bottom-right","title":null,"labelExpr":"'α = ' + datum.label"}}}},
{"transform":[{"filter":"datum.k==='ext'"}],"mark":{"type":"square","size":40,"color":"#1414ff","opacity":1}}]},

{"width":81,"height":57,"transform":[{"filter":"datum.a==='2.2'"}],"resolve":{"axis":{"x":"independent","y":"independent"}},"encoding":{"x":{"field":"x","type":"quantitative","scale":{"domain":[-0.008,0.184],"nice":false,"zero":false},"axis":null},"y":{"field":"y","type":"quantitative","scale":{"domain":[0.0935,0.251],"nice":false,"zero":false},"axis":null}},"layer":[
{"transform":[{"filter":"datum.k==='fit'"}],"mark":{"type":"line","interpolate":"monotone","color":"#2a2aff","stroke":"#2a2aff","strokeWidth":1.2},"encoding":{"x":{"field":"x","type":"quantitative","scale":{"domain":[-0.008,0.184],"nice":false,"zero":false},"axis":{"values":[0,0.02,0.04,0.06,0.08,0.1,0.12,0.14,0.16,0.18],"labelExpr":"datum.value==0||datum.value==0.1?datum.label:''","format":".1f","tickSize":{"condition":{"test":"datum.value==0||datum.value==0.1","value":-4},"value":-2},"title":null}},"y":{"field":"y","type":"quantitative","scale":{"domain":[0.0935,0.251],"nice":false,"zero":false},"axis":{"values":[0.1,0.12,0.14,0.16,0.18,0.2,0.22,0.24],"labelExpr":"indexof([0.1,0.2],datum.value)>=0?datum.label:''","format":".1f","tickSize":{"condition":{"test":"indexof([0.1,0.2],datum.value)>=0","value":-4},"value":-2},"title":null}}}},
{"transform":[{"filter":"datum.k==='ext'"}],"mark":{"type":"point","opacity":0},"encoding":{"x":{"field":"x","type":"quantitative","scale":{"domain":[-0.008,0.184],"nice":false,"zero":false},"axis":{"orient":"top","labels":false,"title":null,"values":[0,0.02,0.04,0.06,0.08,0.1,0.12,0.14,0.16,0.18],"tickSize":{"condition":{"test":"datum.value==0||datum.value==0.1","value":-4},"value":-2}}},"y":{"field":"y","type":"quantitative","scale":{"domain":[0.0935,0.251],"nice":false,"zero":false},"axis":{"orient":"right","labels":false,"title":null,"values":[0.1,0.12,0.14,0.16,0.18,0.2,0.22,0.24],"tickSize":{"condition":{"test":"indexof([0.1,0.2],datum.value)>=0","value":-4},"value":-2}}}}},
{"transform":[{"filter":"datum.k!=='fit'"}],"mark":{"type":"errorbar","ticks":true,"color":"#3c3cff","thickness":0.8},"encoding":{"yError":{"field":"e"}}},
{"transform":[{"filter":"datum.k==='mc'"}],"mark":{"type":"point","shape":"circle","filled":false,"size":20,"strokeWidth":0.8},"encoding":{"color":{"field":"a","type":"nominal","scale":{"range":["#3c3cff"]},"legend":{"orient":"top-left","title":null,"labelExpr":"'α = ' + datum.label"}}}},
{"transform":[{"filter":"datum.k==='ext'"}],"mark":{"type":"square","size":40,"color":"#1414ff","opacity":1}}]},

{"width":81,"height":57,"transform":[{"filter":"datum.a==='2.21'"}],"resolve":{"axis":{"x":"independent","y":"independent"}},"encoding":{"x":{"field":"x","type":"quantitative","scale":{"domain":[-0.008,0.184],"nice":false,"zero":false},"axis":null},"y":{"field":"y","type":"quantitative","scale":{"domain":[0.0717,0.2434],"nice":false,"zero":false},"axis":null}},"layer":[
{"transform":[{"filter":"datum.k==='fit'"}],"mark":{"type":"line","interpolate":"monotone","color":"#2a2aff","stroke":"#2a2aff","strokeWidth":1.2},"encoding":{"x":{"field":"x","type":"quantitative","scale":{"domain":[-0.008,0.184],"nice":false,"zero":false},"axis":{"values":[0,0.02,0.04,0.06,0.08,0.1,0.12,0.14,0.16,0.18],"labelExpr":"datum.value==0||datum.value==0.1?datum.label:''","format":".1f","tickSize":{"condition":{"test":"datum.value==0||datum.value==0.1","value":-4},"value":-2},"title":null}},"y":{"field":"y","type":"quantitative","scale":{"domain":[0.0717,0.2434],"nice":false,"zero":false},"axis":{"values":[0.08,0.1,0.12,0.14,0.16,0.18,0.2,0.22,0.24],"labelExpr":"indexof([0.1,0.2],datum.value)>=0?datum.label:''","format":".1f","tickSize":{"condition":{"test":"indexof([0.1,0.2],datum.value)>=0","value":-4},"value":-2},"title":null}}}},
{"transform":[{"filter":"datum.k==='ext'"}],"mark":{"type":"point","opacity":0},"encoding":{"x":{"field":"x","type":"quantitative","scale":{"domain":[-0.008,0.184],"nice":false,"zero":false},"axis":{"orient":"top","labels":false,"title":null,"values":[0,0.02,0.04,0.06,0.08,0.1,0.12,0.14,0.16,0.18],"tickSize":{"condition":{"test":"datum.value==0||datum.value==0.1","value":-4},"value":-2}}},"y":{"field":"y","type":"quantitative","scale":{"domain":[0.0717,0.2434],"nice":false,"zero":false},"axis":{"orient":"right","labels":false,"title":null,"values":[0.08,0.1,0.12,0.14,0.16,0.18,0.2,0.22,0.24],"tickSize":{"condition":{"test":"indexof([0.1,0.2],datum.value)>=0","value":-4},"value":-2}}}}},
{"transform":[{"filter":"datum.k!=='fit'"}],"mark":{"type":"errorbar","ticks":true,"color":"#3c3cff","thickness":0.8},"encoding":{"yError":{"field":"e"}}},
{"transform":[{"filter":"datum.k==='mc'"}],"mark":{"type":"point","shape":"circle","filled":false,"size":20,"strokeWidth":0.8},"encoding":{"color":{"field":"a","type":"nominal","scale":{"range":["#3c3cff"]},"legend":{"orient":"bottom-right","title":null,"labelExpr":"'α = ' + datum.label"}}}},
{"transform":[{"filter":"datum.k==='ext'"}],"mark":{"type":"square","size":40,"color":"#1414ff","opacity":1}}]},

{"width":81,"height":57,"transform":[{"filter":"datum.a==='2.22'"}],"resolve":{"axis":{"x":"independent","y":"independent"}},"encoding":{"x":{"field":"x","type":"quantitative","scale":{"domain":[-0.008,0.184],"nice":false,"zero":false},"axis":null},"y":{"field":"y","type":"quantitative","scale":{"domain":[0.0627,0.2294],"nice":false,"zero":false},"axis":null}},"layer":[
{"transform":[{"filter":"datum.k==='fit'"}],"mark":{"type":"line","interpolate":"monotone","color":"#2a2aff","stroke":"#2a2aff","strokeWidth":1.2},"encoding":{"x":{"field":"x","type":"quantitative","scale":{"domain":[-0.008,0.184],"nice":false,"zero":false},"axis":{"values":[0,0.02,0.04,0.06,0.08,0.1,0.12,0.14,0.16,0.18],"labelExpr":"datum.value==0||datum.value==0.1?datum.label:''","format":".1f","tickSize":{"condition":{"test":"datum.value==0||datum.value==0.1","value":-4},"value":-2},"title":null}},"y":{"field":"y","type":"quantitative","scale":{"domain":[0.0627,0.2294],"nice":false,"zero":false},"axis":{"values":[0.08,0.1,0.12,0.14,0.16,0.18,0.2,0.22],"labelExpr":"indexof([0.1,0.2],datum.value)>=0?datum.label:''","format":".1f","tickSize":{"condition":{"test":"indexof([0.1,0.2],datum.value)>=0","value":-4},"value":-2},"title":null}}}},
{"transform":[{"filter":"datum.k==='ext'"}],"mark":{"type":"point","opacity":0},"encoding":{"x":{"field":"x","type":"quantitative","scale":{"domain":[-0.008,0.184],"nice":false,"zero":false},"axis":{"orient":"top","labels":false,"title":null,"values":[0,0.02,0.04,0.06,0.08,0.1,0.12,0.14,0.16,0.18],"tickSize":{"condition":{"test":"datum.value==0||datum.value==0.1","value":-4},"value":-2}}},"y":{"field":"y","type":"quantitative","scale":{"domain":[0.0627,0.2294],"nice":false,"zero":false},"axis":{"orient":"right","labels":false,"title":null,"values":[0.08,0.1,0.12,0.14,0.16,0.18,0.2,0.22],"tickSize":{"condition":{"test":"indexof([0.1,0.2],datum.value)>=0","value":-4},"value":-2}}}}},
{"transform":[{"filter":"datum.k!=='fit'"}],"mark":{"type":"errorbar","ticks":true,"color":"#3c3cff","thickness":0.8},"encoding":{"yError":{"field":"e"}}},
{"transform":[{"filter":"datum.k==='mc'"}],"mark":{"type":"point","shape":"circle","filled":false,"size":20,"strokeWidth":0.8},"encoding":{"color":{"field":"a","type":"nominal","scale":{"range":["#3c3cff"]},"legend":{"orient":"bottom-right","title":null,"labelExpr":"'α = ' + datum.label"}}}},
{"transform":[{"filter":"datum.k==='ext'"}],"mark":{"type":"square","size":40,"color":"#1414ff","opacity":1}}]},

{"width":81,"height":57,"transform":[{"filter":"datum.a==='2.24'"}],"resolve":{"axis":{"x":"independent","y":"independent"}},"encoding":{"x":{"field":"x","type":"quantitative","scale":{"domain":[-0.008,0.184],"nice":false,"zero":false},"axis":null},"y":{"field":"y","type":"quantitative","scale":{"domain":[0.059,0.243],"nice":false,"zero":false},"axis":null}},"layer":[
{"transform":[{"filter":"datum.k==='fit'"}],"mark":{"type":"line","interpolate":"monotone","color":"#2a2aff","stroke":"#2a2aff","strokeWidth":1.2},"encoding":{"x":{"field":"x","type":"quantitative","scale":{"domain":[-0.008,0.184],"nice":false,"zero":false},"axis":{"values":[0,0.02,0.04,0.06,0.08,0.1,0.12,0.14,0.16,0.18],"labelExpr":"datum.value==0||datum.value==0.1?datum.label:''","format":".1f","tickSize":{"condition":{"test":"datum.value==0||datum.value==0.1","value":-4},"value":-2},"title":null}},"y":{"field":"y","type":"quantitative","scale":{"domain":[0.059,0.243],"nice":false,"zero":false},"axis":{"values":[0.06,0.08,0.1,0.12,0.14,0.16,0.18,0.2,0.22,0.24],"labelExpr":"indexof([0.1,0.2],datum.value)>=0?datum.label:''","format":".1f","tickSize":{"condition":{"test":"indexof([0.1,0.2],datum.value)>=0","value":-4},"value":-2},"title":"ξₓ"}}}},
{"transform":[{"filter":"datum.k==='ext'"}],"mark":{"type":"point","opacity":0},"encoding":{"x":{"field":"x","type":"quantitative","scale":{"domain":[-0.008,0.184],"nice":false,"zero":false},"axis":{"orient":"top","labels":false,"title":null,"values":[0,0.02,0.04,0.06,0.08,0.1,0.12,0.14,0.16,0.18],"tickSize":{"condition":{"test":"datum.value==0||datum.value==0.1","value":-4},"value":-2}}},"y":{"field":"y","type":"quantitative","scale":{"domain":[0.059,0.243],"nice":false,"zero":false},"axis":{"orient":"right","labels":false,"title":null,"values":[0.06,0.08,0.1,0.12,0.14,0.16,0.18,0.2,0.22,0.24],"tickSize":{"condition":{"test":"indexof([0.1,0.2],datum.value)>=0","value":-4},"value":-2}}}}},
{"transform":[{"filter":"datum.k!=='fit'"}],"mark":{"type":"errorbar","ticks":true,"color":"#3c3cff","thickness":0.8},"encoding":{"yError":{"field":"e"}}},
{"transform":[{"filter":"datum.k==='mc'"}],"mark":{"type":"point","shape":"circle","filled":false,"size":20,"strokeWidth":0.8},"encoding":{"color":{"field":"a","type":"nominal","scale":{"range":["#3c3cff"]},"legend":{"orient":"top-left","title":null,"labelExpr":"'α = ' + datum.label"}}}},
{"transform":[{"filter":"datum.k==='ext'"}],"mark":{"type":"square","size":40,"color":"#1414ff","opacity":1}}]},

{"width":81,"height":57,"transform":[{"filter":"datum.a==='2.25'"}],"resolve":{"axis":{"x":"independent","y":"independent"}},"encoding":{"x":{"field":"x","type":"quantitative","scale":{"domain":[-0.008,0.184],"nice":false,"zero":false},"axis":null},"y":{"field":"y","type":"quantitative","scale":{"domain":[0.048,0.233],"nice":false,"zero":false},"axis":null}},"layer":[
{"transform":[{"filter":"datum.k==='fit'"}],"mark":{"type":"line","interpolate":"monotone","color":"#2a2aff","stroke":"#2a2aff","strokeWidth":1.2},"encoding":{"x":{"field":"x","type":"quantitative","scale":{"domain":[-0.008,0.184],"nice":false,"zero":false},"axis":{"values":[0,0.02,0.04,0.06,0.08,0.1,0.12,0.14,0.16,0.18],"labelExpr":"datum.value==0||datum.value==0.1?datum.label:''","format":".1f","tickSize":{"condition":{"test":"datum.value==0||datum.value==0.1","value":-4},"value":-2},"title":null}},"y":{"field":"y","type":"quantitative","scale":{"domain":[0.048,0.233],"nice":false,"zero":false},"axis":{"values":[0.06,0.08,0.1,0.12,0.14,0.16,0.18,0.2,0.22],"labelExpr":"indexof([0.1,0.2],datum.value)>=0?datum.label:''","format":".1f","tickSize":{"condition":{"test":"indexof([0.1,0.2],datum.value)>=0","value":-4},"value":-2},"title":null}}}},
{"transform":[{"filter":"datum.k==='ext'"}],"mark":{"type":"point","opacity":0},"encoding":{"x":{"field":"x","type":"quantitative","scale":{"domain":[-0.008,0.184],"nice":false,"zero":false},"axis":{"orient":"top","labels":false,"title":null,"values":[0,0.02,0.04,0.06,0.08,0.1,0.12,0.14,0.16,0.18],"tickSize":{"condition":{"test":"datum.value==0||datum.value==0.1","value":-4},"value":-2}}},"y":{"field":"y","type":"quantitative","scale":{"domain":[0.048,0.233],"nice":false,"zero":false},"axis":{"orient":"right","labels":false,"title":null,"values":[0.06,0.08,0.1,0.12,0.14,0.16,0.18,0.2,0.22],"tickSize":{"condition":{"test":"indexof([0.1,0.2],datum.value)>=0","value":-4},"value":-2}}}}},
{"transform":[{"filter":"datum.k!=='fit'"}],"mark":{"type":"errorbar","ticks":true,"color":"#3c3cff","thickness":0.8},"encoding":{"yError":{"field":"e"}}},
{"transform":[{"filter":"datum.k==='mc'"}],"mark":{"type":"point","shape":"circle","filled":false,"size":20,"strokeWidth":0.8},"encoding":{"color":{"field":"a","type":"nominal","scale":{"range":["#3c3cff"]},"legend":{"orient":"bottom-right","title":null,"labelExpr":"'α = ' + datum.label"}}}},
{"transform":[{"filter":"datum.k==='ext'"}],"mark":{"type":"square","size":40,"color":"#1414ff","opacity":1}}]},

{"width":81,"height":57,"transform":[{"filter":"datum.a==='2.26'"}],"resolve":{"axis":{"x":"independent","y":"independent"}},"encoding":{"x":{"field":"x","type":"quantitative","scale":{"domain":[-0.008,0.184],"nice":false,"zero":false},"axis":null},"y":{"field":"y","type":"quantitative","scale":{"domain":[0.038,0.245],"nice":false,"zero":false},"axis":null}},"layer":[
{"transform":[{"filter":"datum.k==='fit'"}],"mark":{"type":"line","interpolate":"monotone","color":"#2a2aff","stroke":"#2a2aff","strokeWidth":1.2},"encoding":{"x":{"field":"x","type":"quantitative","scale":{"domain":[-0.008,0.184],"nice":false,"zero":false},"axis":{"values":[0,0.02,0.04,0.06,0.08,0.1,0.12,0.14,0.16,0.18],"labelExpr":"datum.value==0||datum.value==0.1?datum.label:''","format":".1f","tickSize":{"condition":{"test":"datum.value==0||datum.value==0.1","value":-4},"value":-2},"title":null}},"y":{"field":"y","type":"quantitative","scale":{"domain":[0.038,0.245],"nice":false,"zero":false},"axis":{"values":[0.04,0.06,0.08,0.1,0.12,0.14,0.16,0.18,0.2,0.22,0.24],"labelExpr":"indexof([0.1,0.2],datum.value)>=0?datum.label:''","format":".1f","tickSize":{"condition":{"test":"indexof([0.1,0.2],datum.value)>=0","value":-4},"value":-2},"title":null}}}},
{"transform":[{"filter":"datum.k==='ext'"}],"mark":{"type":"point","opacity":0},"encoding":{"x":{"field":"x","type":"quantitative","scale":{"domain":[-0.008,0.184],"nice":false,"zero":false},"axis":{"orient":"top","labels":false,"title":null,"values":[0,0.02,0.04,0.06,0.08,0.1,0.12,0.14,0.16,0.18],"tickSize":{"condition":{"test":"datum.value==0||datum.value==0.1","value":-4},"value":-2}}},"y":{"field":"y","type":"quantitative","scale":{"domain":[0.038,0.245],"nice":false,"zero":false},"axis":{"orient":"right","labels":false,"title":null,"values":[0.04,0.06,0.08,0.1,0.12,0.14,0.16,0.18,0.2,0.22,0.24],"tickSize":{"condition":{"test":"indexof([0.1,0.2],datum.value)>=0","value":-4},"value":-2}}}}},
{"transform":[{"filter":"datum.k!=='fit'"}],"mark":{"type":"errorbar","ticks":true,"color":"#3c3cff","thickness":0.8},"encoding":{"yError":{"field":"e"}}},
{"transform":[{"filter":"datum.k==='mc'"}],"mark":{"type":"point","shape":"circle","filled":false,"size":20,"strokeWidth":0.8},"encoding":{"color":{"field":"a","type":"nominal","scale":{"range":["#3c3cff"]},"legend":{"orient":"top-left","title":null,"labelExpr":"'α = ' + datum.label"}}}},
{"transform":[{"filter":"datum.k==='ext'"}],"mark":{"type":"square","size":40,"color":"#1414ff","opacity":1}}]},

{"width":81,"height":57,"transform":[{"filter":"datum.a==='2.27'"}],"resolve":{"axis":{"x":"independent","y":"independent"}},"encoding":{"x":{"field":"x","type":"quantitative","scale":{"domain":[-0.008,0.184],"nice":false,"zero":false},"axis":null},"y":{"field":"y","type":"quantitative","scale":{"domain":[0.033,0.236],"nice":false,"zero":false},"axis":null}},"layer":[
{"transform":[{"filter":"datum.k==='fit'"}],"mark":{"type":"line","interpolate":"monotone","color":"#2a2aff","stroke":"#2a2aff","strokeWidth":1.2},"encoding":{"x":{"field":"x","type":"quantitative","scale":{"domain":[-0.008,0.184],"nice":false,"zero":false},"axis":{"values":[0,0.02,0.04,0.06,0.08,0.1,0.12,0.14,0.16,0.18],"labelExpr":"datum.value==0||datum.value==0.1?datum.label:''","format":".1f","tickSize":{"condition":{"test":"datum.value==0||datum.value==0.1","value":-4},"value":-2},"title":null}},"y":{"field":"y","type":"quantitative","scale":{"domain":[0.033,0.236],"nice":false,"zero":false},"axis":{"values":[0.04,0.06,0.08,0.1,0.12,0.14,0.16,0.18,0.2,0.22],"labelExpr":"indexof([0.1,0.2],datum.value)>=0?datum.label:''","format":".1f","tickSize":{"condition":{"test":"indexof([0.1,0.2],datum.value)>=0","value":-4},"value":-2},"title":null}}}},
{"transform":[{"filter":"datum.k==='ext'"}],"mark":{"type":"point","opacity":0},"encoding":{"x":{"field":"x","type":"quantitative","scale":{"domain":[-0.008,0.184],"nice":false,"zero":false},"axis":{"orient":"top","labels":false,"title":null,"values":[0,0.02,0.04,0.06,0.08,0.1,0.12,0.14,0.16,0.18],"tickSize":{"condition":{"test":"datum.value==0||datum.value==0.1","value":-4},"value":-2}}},"y":{"field":"y","type":"quantitative","scale":{"domain":[0.033,0.236],"nice":false,"zero":false},"axis":{"orient":"right","labels":false,"title":null,"values":[0.04,0.06,0.08,0.1,0.12,0.14,0.16,0.18,0.2,0.22],"tickSize":{"condition":{"test":"indexof([0.1,0.2],datum.value)>=0","value":-4},"value":-2}}}}},
{"transform":[{"filter":"datum.k!=='fit'"}],"mark":{"type":"errorbar","ticks":true,"color":"#3c3cff","thickness":0.8},"encoding":{"yError":{"field":"e"}}},
{"transform":[{"filter":"datum.k==='mc'"}],"mark":{"type":"point","shape":"circle","filled":false,"size":20,"strokeWidth":0.8},"encoding":{"color":{"field":"a","type":"nominal","scale":{"range":["#3c3cff"]},"legend":{"orient":"top-left","title":null,"labelExpr":"'α = ' + datum.label"}}}},
{"transform":[{"filter":"datum.k==='ext'"}],"mark":{"type":"square","size":40,"color":"#1414ff","opacity":1}}]},

{"width":81,"height":57,"transform":[{"filter":"datum.a==='2.28'"}],"resolve":{"axis":{"x":"independent","y":"independent"}},"encoding":{"x":{"field":"x","type":"quantitative","scale":{"domain":[-0.008,0.184],"nice":false,"zero":false},"axis":null},"y":{"field":"y","type":"quantitative","scale":{"domain":[0.005,0.211],"nice":false,"zero":false},"axis":null}},"layer":[
{"transform":[{"filter":"datum.k==='fit'"}],"mark":{"type":"line","interpolate":"monotone","color":"#2a2aff","stroke":"#2a2aff","strokeWidth":1.2},"encoding":{"x":{"field":"x","type":"quantitative","scale":{"domain":[-0.008,0.184],"nice":false,"zero":false},"axis":{"values":[0,0.02,0.04,0.06,0.08,0.1,0.12,0.14,0.16,0.18],"labelExpr":"datum.value==0||datum.value==0.1?datum.label:''","format":".1f","tickSize":{"condition":{"test":"datum.value==0||datum.value==0.1","value":-4},"value":-2},"title":"1/Lₘᵢₙ"}},"y":{"field":"y","type":"quantitative","scale":{"domain":[0.005,0.211],"nice":false,"zero":false},"axis":{"values":[0.02,0.04,0.06,0.08,0.1,0.12,0.14,0.16,0.18,0.2],"labelExpr":"indexof([0.1,0.2],datum.value)>=0?datum.label:''","format":".1f","tickSize":{"condition":{"test":"indexof([0.1,0.2],datum.value)>=0","value":-4},"value":-2},"title":"ξₓ"}}}},
{"transform":[{"filter":"datum.k==='ext'"}],"mark":{"type":"point","opacity":0},"encoding":{"x":{"field":"x","type":"quantitative","scale":{"domain":[-0.008,0.184],"nice":false,"zero":false},"axis":{"orient":"top","labels":false,"title":null,"values":[0,0.02,0.04,0.06,0.08,0.1,0.12,0.14,0.16,0.18],"tickSize":{"condition":{"test":"datum.value==0||datum.value==0.1","value":-4},"value":-2}}},"y":{"field":"y","type":"quantitative","scale":{"domain":[0.005,0.211],"nice":false,"zero":false},"axis":{"orient":"right","labels":false,"title":null,"values":[0.02,0.04,0.06,0.08,0.1,0.12,0.14,0.16,0.18,0.2],"tickSize":{"condition":{"test":"indexof([0.1,0.2],datum.value)>=0","value":-4},"value":-2}}}}},
{"transform":[{"filter":"datum.k!=='fit'"}],"mark":{"type":"errorbar","ticks":true,"color":"#3c3cff","thickness":0.8},"encoding":{"yError":{"field":"e"}}},
{"transform":[{"filter":"datum.k==='mc'"}],"mark":{"type":"point","shape":"circle","filled":false,"size":20,"strokeWidth":0.8},"encoding":{"color":{"field":"a","type":"nominal","scale":{"range":["#3c3cff"]},"legend":{"orient":"bottom-right","title":null,"labelExpr":"'α = ' + datum.label"}}}},
{"transform":[{"filter":"datum.k==='ext'"}],"mark":{"type":"square","size":40,"color":"#1414ff","opacity":1}}]},

{"width":81,"height":57,"transform":[{"filter":"datum.a==='2.4'"}],"resolve":{"axis":{"x":"independent","y":"independent"}},"encoding":{"x":{"field":"x","type":"quantitative","scale":{"domain":[-0.008,0.184],"nice":false,"zero":false},"axis":null},"y":{"field":"y","type":"quantitative","scale":{"domain":[-0.033,0.187],"nice":false,"zero":false},"axis":null}},"layer":[
{"transform":[{"filter":"datum.k==='fit'"}],"mark":{"type":"line","interpolate":"monotone","color":"#2a2aff","stroke":"#2a2aff","strokeWidth":1.2},"encoding":{"x":{"field":"x","type":"quantitative","scale":{"domain":[-0.008,0.184],"nice":false,"zero":false},"axis":{"values":[0,0.02,0.04,0.06,0.08,0.1,0.12,0.14,0.16,0.18],"labelExpr":"datum.value==0||datum.value==0.1?datum.label:''","format":".1f","tickSize":{"condition":{"test":"datum.value==0||datum.value==0.1","value":-4},"value":-2},"title":"1/Lₘᵢₙ"}},"y":{"field":"y","type":"quantitative","scale":{"domain":[-0.033,0.187],"nice":false,"zero":false},"axis":{"values":[-0.02,0,0.02,0.04,0.06,0.08,0.1,0.12,0.14,0.16,0.18],"labelExpr":"indexof([0,0.1],datum.value)>=0?datum.label:''","format":".1f","tickSize":{"condition":{"test":"indexof([0,0.1],datum.value)>=0","value":-4},"value":-2},"title":null}}}},
{"transform":[{"filter":"datum.k==='ext'"}],"mark":{"type":"point","opacity":0},"encoding":{"x":{"field":"x","type":"quantitative","scale":{"domain":[-0.008,0.184],"nice":false,"zero":false},"axis":{"orient":"top","labels":false,"title":null,"values":[0,0.02,0.04,0.06,0.08,0.1,0.12,0.14,0.16,0.18],"tickSize":{"condition":{"test":"datum.value==0||datum.value==0.1","value":-4},"value":-2}}},"y":{"field":"y","type":"quantitative","scale":{"domain":[-0.033,0.187],"nice":false,"zero":false},"axis":{"orient":"right","labels":false,"title":null,"values":[-0.02,0,0.02,0.04,0.06,0.08,0.1,0.12,0.14,0.16,0.18],"tickSize":{"condition":{"test":"indexof([0,0.1],datum.value)>=0","value":-4},"value":-2}}}}},
{"transform":[{"filter":"datum.k!=='fit'"}],"mark":{"type":"errorbar","ticks":true,"color":"#3c3cff","thickness":0.8},"encoding":{"yError":{"field":"e"}}},
{"transform":[{"filter":"datum.k==='mc'"}],"mark":{"type":"point","shape":"circle","filled":false,"size":20,"strokeWidth":0.8},"encoding":{"color":{"field":"a","type":"nominal","scale":{"range":["#3c3cff"]},"legend":{"orient":"top-left","title":null,"labelExpr":"'α = ' + datum.label"}}}},
{"transform":[{"filter":"datum.k==='ext'"}],"mark":{"type":"square","size":40,"color":"#1414ff","opacity":1}}]},

{"width":81,"height":57,"transform":[{"filter":"datum.a==='2.5'"}],"resolve":{"axis":{"x":"independent","y":"independent"}},"encoding":{"x":{"field":"x","type":"quantitative","scale":{"domain":[-0.008,0.184],"nice":false,"zero":false},"axis":null},"y":{"field":"y","type":"quantitative","scale":{"domain":[-0.072,0.155],"nice":false,"zero":false},"axis":null}},"layer":[
{"transform":[{"filter":"datum.k==='fit'"}],"mark":{"type":"line","interpolate":"monotone","color":"#2a2aff","stroke":"#2a2aff","strokeWidth":1.2},"encoding":{"x":{"field":"x","type":"quantitative","scale":{"domain":[-0.008,0.184],"nice":false,"zero":false},"axis":{"values":[0,0.02,0.04,0.06,0.08,0.1,0.12,0.14,0.16,0.18],"labelExpr":"datum.value==0||datum.value==0.1?datum.label:''","format":".1f","tickSize":{"condition":{"test":"datum.value==0||datum.value==0.1","value":-4},"value":-2},"title":"1/Lₘᵢₙ"}},"y":{"field":"y","type":"quantitative","scale":{"domain":[-0.072,0.155],"nice":false,"zero":false},"axis":{"values":[-0.06,-0.04,-0.02,0,0.02,0.04,0.06,0.08,0.1,0.12,0.14],"labelExpr":"indexof([0,0.1],datum.value)>=0?datum.label:''","format":".1f","tickSize":{"condition":{"test":"indexof([0,0.1],datum.value)>=0","value":-4},"value":-2},"title":null}}}},
{"transform":[{"filter":"datum.k==='ext'"}],"mark":{"type":"point","opacity":0},"encoding":{"x":{"field":"x","type":"quantitative","scale":{"domain":[-0.008,0.184],"nice":false,"zero":false},"axis":{"orient":"top","labels":false,"title":null,"values":[0,0.02,0.04,0.06,0.08,0.1,0.12,0.14,0.16,0.18],"tickSize":{"condition":{"test":"datum.value==0||datum.value==0.1","value":-4},"value":-2}}},"y":{"field":"y","type":"quantitative","scale":{"domain":[-0.072,0.155],"nice":false,"zero":false},"axis":{"orient":"right","labels":false,"title":null,"values":[-0.06,-0.04,-0.02,0,0.02,0.04,0.06,0.08,0.1,0.12,0.14],"tickSize":{"condition":{"test":"indexof([0,0.1],datum.value)>=0","value":-4},"value":-2}}}}},
{"transform":[{"filter":"datum.k!=='fit'"}],"mark":{"type":"errorbar","ticks":true,"color":"#3c3cff","thickness":0.8},"encoding":{"yError":{"field":"e"}}},
{"transform":[{"filter":"datum.k==='mc'"}],"mark":{"type":"point","shape":"circle","filled":false,"size":20,"strokeWidth":0.8},"encoding":{"color":{"field":"a","type":"nominal","scale":{"range":["#3c3cff"]},"legend":{"orient":"top-left","title":null,"labelExpr":"'α = ' + datum.label"}}}},
{"transform":[{"filter":"datum.k==='ext'"}],"mark":{"type":"square","size":40,"color":"#1414ff","opacity":1}}]},

{"width":81,"height":57,"transform":[{"filter":"datum.a==='3.0'"}],"resolve":{"axis":{"x":"independent","y":"independent"}},"encoding":{"x":{"field":"x","type":"quantitative","scale":{"domain":[-0.008,0.184],"nice":false,"zero":false},"axis":null},"y":{"field":"y","type":"quantitative","scale":{"domain":[-0.0594,0.072],"nice":false,"zero":false},"axis":null}},"layer":[
{"transform":[{"filter":"datum.k==='fit'"}],"mark":{"type":"line","interpolate":"monotone","color":"#2a2aff","stroke":"#2a2aff","strokeWidth":1.2},"encoding":{"x":{"field":"x","type":"quantitative","scale":{"domain":[-0.008,0.184],"nice":false,"zero":false},"axis":{"values":[0,0.02,0.04,0.06,0.08,0.1,0.12,0.14,0.16,0.18],"labelExpr":"datum.value==0||datum.value==0.1?datum.label:''","format":".1f","tickSize":{"condition":{"test":"datum.value==0||datum.value==0.1","value":-4},"value":-2},"title":"1/Lₘᵢₙ"}},"y":{"field":"y","type":"quantitative","scale":{"domain":[-0.0594,0.072],"nice":false,"zero":false},"axis":{"values":[-0.05,-0.04,-0.03,-0.02,-0.01,0,0.01,0.02,0.03,0.04,0.05,0.06,0.07],"labelExpr":"indexof([-0.05,0,0.05],datum.value)>=0?datum.label:''","format":".2f","tickSize":{"condition":{"test":"indexof([-0.05,0,0.05],datum.value)>=0","value":-4},"value":-2},"title":null}}}},
{"transform":[{"filter":"datum.k==='ext'"}],"mark":{"type":"point","opacity":0},"encoding":{"x":{"field":"x","type":"quantitative","scale":{"domain":[-0.008,0.184],"nice":false,"zero":false},"axis":{"orient":"top","labels":false,"title":null,"values":[0,0.02,0.04,0.06,0.08,0.1,0.12,0.14,0.16,0.18],"tickSize":{"condition":{"test":"datum.value==0||datum.value==0.1","value":-4},"value":-2}}},"y":{"field":"y","type":"quantitative","scale":{"domain":[-0.0594,0.072],"nice":false,"zero":false},"axis":{"orient":"right","labels":false,"title":null,"values":[-0.05,-0.04,-0.03,-0.02,-0.01,0,0.01,0.02,0.03,0.04,0.05,0.06,0.07],"tickSize":{"condition":{"test":"indexof([-0.05,0,0.05],datum.value)>=0","value":-4},"value":-2}}}}},
{"transform":[{"filter":"datum.k!=='fit'"}],"mark":{"type":"errorbar","ticks":true,"color":"#3c3cff","thickness":0.8},"encoding":{"yError":{"field":"e"}}},
{"transform":[{"filter":"datum.k==='mc'"}],"mark":{"type":"point","shape":"circle","filled":false,"size":20,"strokeWidth":0.8},"encoding":{"color":{"field":"a","type":"nominal","scale":{"range":["#3c3cff"]},"legend":{"orient":"top-left","title":null,"labelExpr":"'α = ' + datum.label"}}}},
{"transform":[{"filter":"datum.k==='ext'"}],"mark":{"type":"square","size":40,"color":"#1414ff","opacity":1}}]}
],
"config":{
"font":"Liberation Serif",
"view":{"stroke":"#808080","strokeWidth":0.8},
"axis":{"grid":false,"domain":false,"labelFont":"Liberation Serif","labelFontSize":7,"labelColor":"#222222","tickColor":"#666666","tickWidth":0.6,"labelPadding":6,"titleFont":"DejaVu Serif","titleFontSize":8,"titleFontWeight":"normal","titleColor":"#222222","titlePadding":0},
"axisX":{"titlePadding":2},
"legend":{"labelFont":"Liberation Serif","labelFontSize":7.5,"labelColor":"#222222","symbolType":"M0,-1V1M-0.35,-1H0.35M-0.35,1H0.35M-0.6,0A0.6,0.6 0 1 0 0.6,0A0.6,0.6 0 1 0 -0.6,0","symbolSize":49,"symbolStrokeWidth":0.8,"padding":0,"offset":5,"labelOffset":6,"rowPadding":0}
}
}
